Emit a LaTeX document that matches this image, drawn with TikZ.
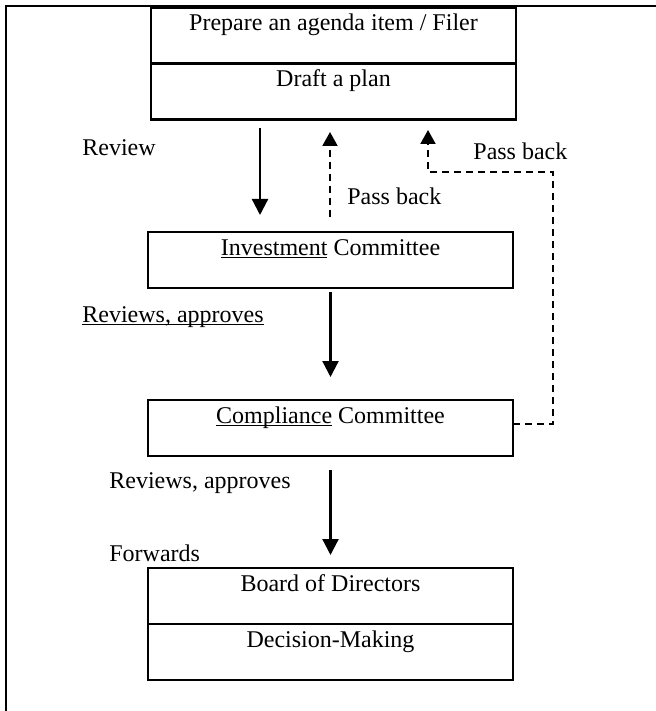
\documentclass[tikz,border=0pt]{standalone}
\usepackage{fontspec}
\setmainfont{Liberation Serif}
\usetikzlibrary{arrows.meta}
% underline with a fixed offset below the baseline
\newcommand\ulword[1]{\setbox0\hbox{#1}\rlap{\rule[-1.5pt]{\wd0}{0.6pt}}\box0\relax}

\begin{document}
\begin{tikzpicture}[x=0.5pt,y=-0.5pt,
  font=\fontsize{12pt}{14pt}\selectfont,
  stage/.style={draw, line width=1.1pt, minimum width=182.5pt, inner sep=0pt,
    outer sep=0pt, text height=11.5pt, text depth=16.5pt, anchor=north},
  lbl/.style={anchor=base west, inner sep=0pt},
  flow/.style={line width=1.1pt, -{Triangle[width=8pt,length=8pt]}},
  passback/.style={line width=1pt, dash pattern=on 3.5pt off 2.5pt,
    -{Triangle[width=7.5pt,length=7pt]}},
  frameline/.style={line width=1.1pt}]

\useasboundingbox (0,0) rectangle (656,711);

% outer frame (left and top edges)
\draw[frameline] (5.7,711) -- (5.7,5.7) -- (656,5.7);

% stages of the approval flow
\node[stage] (prep) at (333.5,7.5) {Prepare an agenda item / Filer};
\node[stage] (draft) at (prep.south) {Draft a plan};
\node[stage] (inv) at (330.5,232) {\ulword{Investment} Committee};
\node[stage] (comp) at (330.5,400) {\ulword{Compliance} Committee};
\node[stage] (board) at (330.5,568) {Board of Directors};
\node[stage] (dec) at (board.south) {Decision-Making};

% free ends of the pass-back lines
\coordinate (pbtipA) at (330,132);
\coordinate (pbtipB) at (428,130);
\coordinate (pbcorner) at (553,172);

% forward flow
\draw[flow] ([xshift=-36.75pt,yshift=-4.5pt]draft.south) -- ([xshift=-35.25pt,yshift=8.5pt]inv.north);
\draw[flow] ([yshift=-2pt]inv.south) -- ([yshift=11.5pt]comp.north);
\draw[flow] ([yshift=-7pt]comp.south) -- ([yshift=6.5pt]board.north);

% pass-back lines
\draw[passback] ([xshift=-0.25pt,yshift=7.5pt]inv.north) -- (pbtipA);
\draw[passback] ([yshift=2pt]comp.east) -| (pbcorner) -| (pbtipB);

% labels
\node[lbl] (lreview) at (82,156) {Review};
\node[lbl] (lpassA) at (347,205) {Pass back};
\node[lbl] (lpassB) at (473,160) {Pass back};
\node[lbl] (lrevA) at (82,322) {\ulword{Reviews, approves}};
\node[lbl] (lrevB) at (109,488) {Reviews, approves};
\node[lbl] (lfwd) at (109,561) {Forwards};
\end{tikzpicture}
\end{document}
